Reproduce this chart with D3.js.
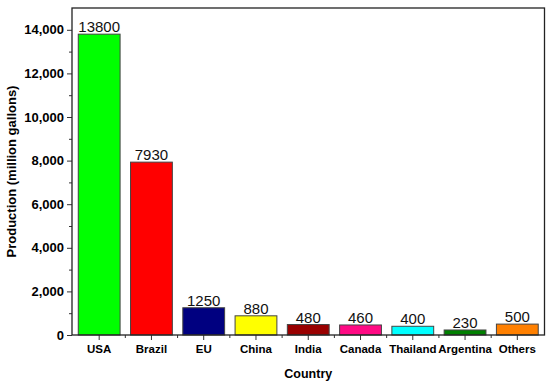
<!DOCTYPE html>
<html>
<head>
<meta charset="utf-8">
<script src="https://cdn.jsdelivr.net/npm/d3@7"></script>
<style>
  body { margin: 0; background: #fff; }
  svg { display: block; }
</style>
</head>
<body>
<script>
// data
const countries = ["USA", "Brazil", "EU", "China", "India", "Canada", "Thailand", "Argentina", "Others"];
const production = [13800, 7930, 1250, 880, 480, 460, 400, 230, 500];
const barColors = ["#00ff00", "#ff0000", "#000080", "#ffff00", "#990000", "#ff0a84", "#00ffff", "#008000", "#ff8000"];
const yTicks = [0, 2000, 4000, 6000, 8000, 10000, 12000, 14000];
const yMinor = [1000, 3000, 5000, 7000, 9000, 11000, 13000];

const w = 550, h = 383;
const m = {top: 8, right: 5.5, bottom: 48, left: 72};

const svg = d3.select("body").append("svg")
  .attr("width", w)
  .attr("height", h);

const x = d3.scaleBand()
  .domain(countries)
  .range([m.left, w - m.right])
  .paddingInner(0.2)
  .paddingOuter(0.12);

const y = d3.scaleLinear()
  .domain([0, 15000])
  .range([h - m.bottom, m.top]);

// bars
svg.selectAll("rect.bar")
  .data(countries)
  .enter()
  .append("rect")
  .attr("class", "bar")
  .attr("x", d => x(d))
  .attr("y", (d, i) => y(production[i]))
  .attr("width", x.bandwidth())
  .attr("height", (d, i) => y(0) - y(production[i]))
  .attr("fill", (d, i) => barColors[i])
  .attr("stroke", "#444")
  .attr("stroke-width", 1);

// value labels
svg.selectAll("text.val")
  .data(countries)
  .enter()
  .append("text")
  .attr("class", "val")
  .attr("x", d => x(d) + x.bandwidth() / 2)
  .attr("y", (d, i) => y(production[i]) - 2)
  .attr("text-anchor", "middle")
  .style("font-family", "Liberation Sans, Arial, sans-serif")
  .style("font-size", "15px")
  .attr("fill", "#111")
  .text((d, i) => production[i]);

// y axis
const yAxis = d3.axisLeft(y)
  .tickValues(yTicks)
  .tickSize(5)
  .tickPadding(3)
  .tickFormat(d3.format(","));
const gy = svg.append("g")
  .attr("transform", `translate(${m.left},0)`)
  .call(yAxis);
gy.select(".domain").remove();
gy.selectAll("line").attr("stroke", "#333");
gy.selectAll("text")
  .style("font-family", "Liberation Sans, Arial, sans-serif")
  .style("font-size", "13px")
  .style("font-weight", "bold")
  .attr("fill", "#000");

const gyMinor = svg.append("g")
  .attr("transform", `translate(${m.left},0)`)
  .call(d3.axisLeft(y).tickValues(yMinor).tickSize(3).tickFormat(""));
gyMinor.select(".domain").remove();
gyMinor.selectAll("line").attr("stroke", "#333");

// x axis
const gx = svg.append("g")
  .attr("transform", `translate(0,${h - m.bottom})`)
  .call(d3.axisBottom(x).tickSize(5).tickPadding(5));
gx.select(".domain").remove();
gx.selectAll("line").attr("stroke", "#333");
gx.selectAll("text")
  .style("font-family", "Liberation Sans, Arial, sans-serif")
  .style("font-size", "11.5px")
  .style("font-weight", "bold")
  .attr("fill", "#000");

// minor ticks on the category boundaries
const bounds = countries.slice(1).map(d => x(d) - x.step() * x.paddingInner() / 2);
svg.append("g")
  .selectAll("line")
  .data(bounds)
  .enter()
  .append("line")
  .attr("x1", d => d).attr("x2", d => d)
  .attr("y1", h - m.bottom).attr("y2", h - m.bottom + 3)
  .attr("stroke", "#333");

// frame
svg.append("rect")
  .attr("x", m.left)
  .attr("y", m.top)
  .attr("width", w - m.left - m.right)
  .attr("height", h - m.top - m.bottom)
  .attr("fill", "none")
  .attr("stroke", "#222")
  .attr("stroke-width", 1.3);

// axis titles
svg.append("text")
  .attr("x", (m.left + w - m.right) / 2)
  .attr("y", 378)
  .attr("text-anchor", "middle")
  .style("font-family", "Liberation Sans, Arial, sans-serif")
  .style("font-size", "12.5px")
  .style("font-weight", "bold")
  .text("Country");

svg.append("text")
  .attr("transform", `translate(16,${(m.top + h - m.bottom) / 2}) rotate(-90)`)
  .attr("text-anchor", "middle")
  .style("font-family", "Liberation Sans, Arial, sans-serif")
  .style("font-size", "13px")
  .style("font-weight", "bold")
  .text("Production (million gallons)");
</script>
</body>
</html>
